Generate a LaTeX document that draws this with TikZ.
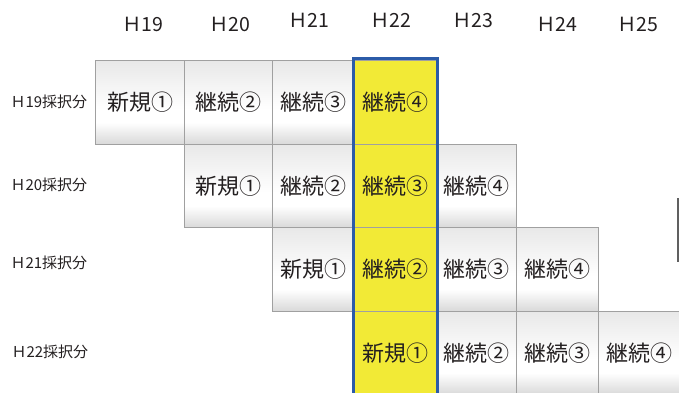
\documentclass[tikz,border=0pt]{standalone}
\usepackage{fontspec}
\setmainfont{Noto Sans CJK JP}
\usetikzlibrary{positioning}
\definecolor{edgegray}{HTML}{A0A0A0}
\definecolor{hiyellow}{HTML}{F2EA36}
\definecolor{frameblue}{HTML}{2B5BA8}
\definecolor{inkgray}{HTML}{231F20}
\pgfdeclareverticalshading{cellshade}{100bp}{color(0bp)=(gray!30); color(25bp)=(gray!30); color(38bp)=(white); color(46bp)=(white); color(75bp)=(gray!18); color(100bp)=(gray!18)}

\begin{document}
\begin{tikzpicture}[x=1pt, y=-1pt,
				box/.style={rectangle, draw=edgegray, line width=1.3pt, minimum height=83.5pt, anchor=north west, inner sep=0pt, text=inkgray, font=\fontsize{22}{24}\selectfont},
				cell/.style={box, minimum width=#1, shading=cellshade},
				cur/.style={box, minimum width=#1, fill=hiyellow},
				yr/.style={text=inkgray, font=\fontsize{19.5}{21}\selectfont},
				rowlab/.style={anchor=west, text=inkgray, font=\fontsize{15}{17}\selectfont}
			]
			\clip (0,0) rectangle (679,392);
			% years
			\node[yr] (y19) at (143,24) {Ｈ19};
			\node[yr] (y20) at (230,24) {Ｈ20};
			\node[yr] (y21) at (309,20) {Ｈ21};
			\node[yr] (y22) at (391,20) {Ｈ22};
			\node[yr] (y23) at (473,20) {Ｈ23};
			\node[yr] (y24) at (557,24) {Ｈ24};
			\node[yr] (y25) at (638,24) {Ｈ25};
			% rows
			\node[rowlab] (lab19) at (7,102) {Ｈ19採択分};
			\node[rowlab] (lab20) at (7,185) {Ｈ20採択分};
			\node[rowlab] (lab21) at (7,263) {Ｈ21採択分};
			\node[rowlab] (lab22) at (8,352) {Ｈ22採択分};
			% H19
			\node[cell=89pt] (r1c1) at (95,60) {新規①};
			\node[cell=88pt] (r1c2) at (184,60) {継続②};
			\node[cell=81pt] (r1c3) at (272,60) {継続③};
			\node[cur=83pt] (r1c4) at (353,60) {継続④};
			% H20
			\node[cell=88pt] (r2c2) at (184,143.5) {新規①};
			\node[cell=81pt] (r2c3) at (272,143.5) {継続②};
			\node[cur=83pt] (r2c4) at (353,143.5) {継続③};
			\node[cell=80pt] (r2c5) at (436,143.5) {継続④};
			% H21
			\node[cell=81pt] (r3c3) at (272,227) {新規①};
			\node[cur=83pt] (r3c4) at (353,227) {継続②};
			\node[cell=80pt] (r3c5) at (436,227) {継続③};
			\node[cell=82pt] (r3c6) at (516,227) {継続④};
			% H22
			\node[cur=83pt] (r4c4) at (353,310.5) {新規①};
			\node[cell=80pt] (r4c5) at (436,310.5) {継続②};
			\node[cell=82pt] (r4c6) at (516,310.5) {継続③};
			\node[cell=82pt] (r4c7) at (598,310.5) {継続④};
			\draw[frameblue, line width=3pt] ([yshift=1.5pt]r1c4.north west) rectangle ([yshift=-20pt]r4c4.south east);
			\draw[gray!75!black, line width=1.5pt] (678,198) -- (678,262);
			\end{tikzpicture}
\end{document}
